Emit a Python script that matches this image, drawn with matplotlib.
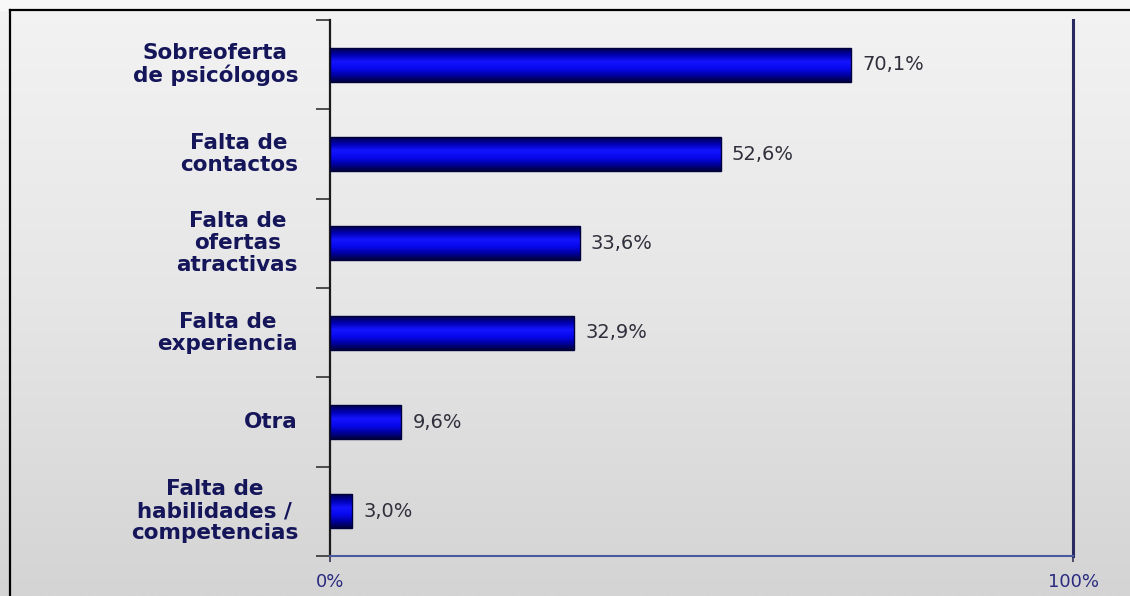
import numpy as np
import matplotlib
matplotlib.use("agg")
import matplotlib.pyplot as plt
from matplotlib.colors import LinearSegmentedColormap
from matplotlib.lines import Line2D
from matplotlib.patches import Rectangle

# data
categories = ["Sobreoferta\nde psicólogos", "Falta de\ncontactos",
              "Falta de\nofertas\natractivas", "Falta de\nexperiencia",
              "Otra", "Falta de\nhabilidades /\ncompetencias"]
values = [70.1, 52.6, 33.6, 32.9, 9.6, 3.0]
value_labels = ["70,1%", "52,6%", "33,6%", "32,9%", "9,6%", "3,0%"]
x_ticks = [0, 100]
x_tick_labels = ["0%", "100%"]

W, H = 1130, 596
fig = plt.figure(figsize=(W / 100, H / 100), dpi=100)

# background: light grey gradient with a black frame on the left and top
bg = fig.add_axes([0, 0, 1, 1])
bg.axis("off")
grad = np.linspace(0, 1, 256).reshape(-1, 1)
bg_cmap = LinearSegmentedColormap.from_list("bg", ["#f3f3f3", "#e6e6e6", "#d4d4d4"])
bg.imshow(grad, cmap=bg_cmap, aspect="auto", extent=(0, 1, 0, 1), origin="upper")
bg.add_patch(Rectangle((0, 1 - 10 / H), 1, 10 / H, color="#f8f8f8", zorder=2))
fig.add_artist(Line2D([10 / W, 10 / W], [0, 1 - 10 / H], color="black", lw=1.6))
fig.add_artist(Line2D([10 / W, 1], [1 - 10 / H, 1 - 10 / H], color="black", lw=1.6))

ax = fig.add_axes([330 / W, 40 / H, 743 / W, 536 / H])
ax.set_facecolor("none")

y = np.arange(len(values))
bars = ax.barh(y, values, height=0.38, color="none", edgecolor="#00003c", lw=1, zorder=3)

bar_cmap = LinearSegmentedColormap.from_list(
    "bar", ["#00004a", "#0000b0", "#1414ff", "#0808ee", "#0000a0", "#00003a"])
for b in bars:
    x0, y0, w, h = b.get_x(), b.get_y(), b.get_width(), b.get_height()
    ax.imshow(grad, cmap=bar_cmap, aspect="auto", origin="upper",
              extent=(x0, x0 + w, y0 + h, y0), zorder=2)

for yi, v, lab in zip(y, values, value_labels):
    ax.text(v + 1.5, yi, lab, va="center", ha="left", fontsize=14,
            color="#30303c", family="DejaVu Sans")

for yi, cat in zip(y, categories):
    ax.text(-0.043, yi, cat, transform=ax.get_yaxis_transform(), ha="right",
            va="center", multialignment="center", fontsize=15.5,
            fontweight="bold", color="#15155a", linespacing=1.12,
            family="DejaVu Sans")

ax.set_xlim(0, 100)
ax.set_ylim(len(values) - 0.5, -0.5)

ax.set_yticks(np.arange(-0.5, len(values), 1))
ax.set_yticklabels([])
ax.tick_params(axis="y", length=10, width=1.2, color="#333333")
ax.set_xticks(x_ticks)
ax.set_xticklabels(x_tick_labels, fontsize=13, color="#2a2a80", family="DejaVu Sans")
ax.tick_params(axis="x", length=4, width=1.2, color="#333355", pad=8)

ax.spines["top"].set_visible(False)
ax.spines["left"].set_color("#1a1a1a")
ax.spines["left"].set_linewidth(1.6)
ax.spines["bottom"].set_color("#4a5aa0")
ax.spines["bottom"].set_linewidth(1.5)
ax.spines["right"].set_color("#2a2a62")
ax.spines["right"].set_linewidth(2.2)

plt.savefig("out.png", dpi=100)
